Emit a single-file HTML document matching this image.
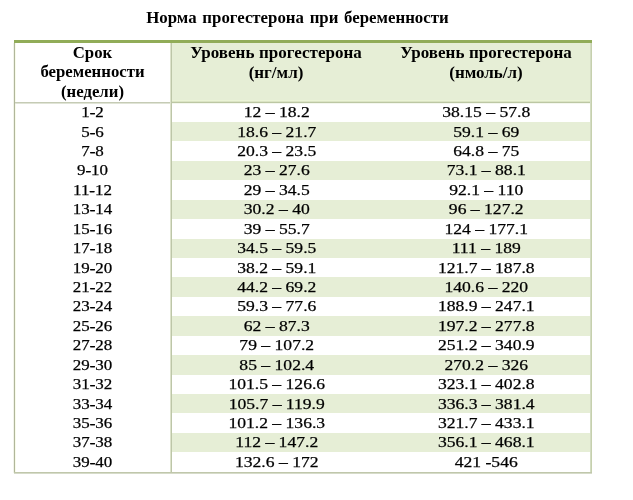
<!DOCTYPE html>
<html><head><meta charset="utf-8"><title>Норма прогестерона при беременности</title>
<style>
html,body{margin:0;padding:0;background:#fff;}
body{width:633px;height:500px;position:relative;overflow:hidden;font-family:"Liberation Serif",serif;color:#000;}
.abs{position:absolute;}
.title{position:absolute;left:0;width:595.0px;top:8.2px;text-align:center;font-weight:bold;font-size:16px;line-height:20px;white-space:nowrap;}
.h{position:absolute;text-align:center;font-weight:bold;font-size:15.8px;line-height:19.3px;top:43.2px;}
.r{position:absolute;left:14px;width:577px;height:19.43px;font-size:15.2px;}
.r span{position:absolute;top:0;text-align:center;line-height:19.43px;white-space:nowrap;}
.title,.h,.r span{transform:scaleX(1.1);transform-origin:50% 50%;}
.title{transform:scaleX(1.051);word-spacing:1.45px;}
.h{transform:scaleX(1.06);word-spacing:2px;}
.h.w{transform:scaleX(1.076);word-spacing:0.4px;margin-top:-0.3px;line-height:19.9px;}
.r span{transform:scaleX(1.158);-webkit-text-stroke:0.25px #000;}
.r span.c1{transform:scaleX(1.116);}
.r i{font-style:normal;text-shadow:0 0.45px 0 #000;}
.c1{left:0;width:157px;}
.c2{left:157px;width:211.5px;}
.c3{margin-left:-0.8px;left:368.5px;width:208.5px;}
</style></head><body>

<div class="title">Норма прогестерона при беременности</div>
<div class="abs" style="left:171px;top:40px;width:420px;height:62px;background:#e6eed6"></div>
<div class="abs" style="left:172px;top:122px;width:419px;height:19px;background:#e6eed6"></div>
<div class="abs" style="left:172px;top:161px;width:419px;height:19px;background:#e6eed6"></div>
<div class="abs" style="left:172px;top:200px;width:419px;height:19px;background:#e6eed6"></div>
<div class="abs" style="left:172px;top:239px;width:419px;height:19px;background:#e6eed6"></div>
<div class="abs" style="left:172px;top:277px;width:419px;height:20px;background:#e6eed6"></div>
<div class="abs" style="left:172px;top:316px;width:419px;height:20px;background:#e6eed6"></div>
<div class="abs" style="left:172px;top:355px;width:419px;height:20px;background:#e6eed6"></div>
<div class="abs" style="left:172px;top:394px;width:419px;height:19px;background:#e6eed6"></div>
<div class="abs" style="left:172px;top:433px;width:419px;height:19px;background:#e6eed6"></div>
<div class="abs" style="left:13px;top:43px;width:1px;height:430px;background:#f1f3ea"></div>
<div class="abs" style="left:14px;top:40px;width:1px;height:433px;background:#b0b69a"></div>
<div class="abs" style="left:15px;top:43px;width:1px;height:429px;background:#f8fbea"></div>
<div class="abs" style="left:590px;top:43px;width:1px;height:430px;background:#d3dcc2"></div>
<div class="abs" style="left:591px;top:43px;width:1px;height:430px;background:#c6d0ae"></div>
<div class="abs" style="left:14px;top:472px;width:578px;height:1px;background:#c0c7ab"></div>
<div class="abs" style="left:14px;top:473px;width:578px;height:1px;background:#d6dbc9"></div>
<div class="abs" style="left:15px;top:102px;width:156px;height:1px;background:#c5cbb5"></div>
<div class="abs" style="left:15px;top:103px;width:156px;height:1px;background:#e0e4d6"></div>
<div class="abs" style="left:172px;top:100px;width:418px;height:1px;background:#ebf4d6"></div>
<div class="abs" style="left:172px;top:101px;width:418px;height:1px;background:#dbe4c4"></div>
<div class="abs" style="left:172px;top:102px;width:418px;height:1px;background:#bcc7a3"></div>
<div class="abs" style="left:172px;top:103px;width:418px;height:1px;background:#f4f7ee"></div>
<div class="abs" style="left:170px;top:43px;width:1px;height:429px;background:#dde3cc"></div>
<div class="abs" style="left:171px;top:43px;width:1px;height:429px;background:#bdc6a8"></div>
<div class="abs" style="left:14px;top:40px;width:578px;height:3px;background:#91ac58"></div>
<div class="h" style="left:14px;width:157px">Срок<br>беременности<br>(недели)</div>
<div class="h w" style="left:171px;width:210px">Уровень прогестерона<br>(нг/мл)</div>
<div class="h w" style="left:381px;width:210px">Уровень прогестерона<br>(нмоль/л)</div>
<div class="r" style="top:102.10px"><span class="c1">1<i>-</i>2</span><span class="c2">12 <i>–</i> 18.2</span><span class="c3">38.15 <i>–</i> 57.8</span></div>
<div class="r" style="top:121.53px"><span class="c1">5<i>-</i>6</span><span class="c2">18.6 <i>–</i> 21.7</span><span class="c3">59.1 <i>–</i> 69</span></div>
<div class="r" style="top:140.96px"><span class="c1">7<i>-</i>8</span><span class="c2">20.3 <i>–</i> 23.5</span><span class="c3">64.8 <i>–</i> 75</span></div>
<div class="r" style="top:160.39px"><span class="c1">9<i>-</i>10</span><span class="c2">23 <i>–</i> 27.6</span><span class="c3">73.1 <i>–</i> 88.1</span></div>
<div class="r" style="top:179.82px"><span class="c1">11<i>-</i>12</span><span class="c2">29 <i>–</i> 34.5</span><span class="c3">92.1 <i>–</i> 110</span></div>
<div class="r" style="top:199.25px"><span class="c1">13<i>-</i>14</span><span class="c2">30.2 <i>–</i> 40</span><span class="c3">96 <i>–</i> 127.2</span></div>
<div class="r" style="top:218.68px"><span class="c1">15<i>-</i>16</span><span class="c2">39 <i>–</i> 55.7</span><span class="c3">124 <i>–</i> 177.1</span></div>
<div class="r" style="top:238.11px"><span class="c1">17<i>-</i>18</span><span class="c2">34.5 <i>–</i> 59.5</span><span class="c3">111 <i>–</i> 189</span></div>
<div class="r" style="top:257.54px"><span class="c1">19<i>-</i>20</span><span class="c2">38.2 <i>–</i> 59.1</span><span class="c3">121.7 <i>–</i> 187.8</span></div>
<div class="r" style="top:276.97px"><span class="c1">21<i>-</i>22</span><span class="c2">44.2 <i>–</i> 69.2</span><span class="c3">140.6 <i>–</i> 220</span></div>
<div class="r" style="top:296.40px"><span class="c1">23<i>-</i>24</span><span class="c2">59.3 <i>–</i> 77.6</span><span class="c3">188.9 <i>–</i> 247.1</span></div>
<div class="r" style="top:315.83px"><span class="c1">25<i>-</i>26</span><span class="c2">62 <i>–</i> 87.3</span><span class="c3">197.2 <i>–</i> 277.8</span></div>
<div class="r" style="top:335.26px"><span class="c1">27<i>-</i>28</span><span class="c2">79 <i>–</i> 107.2</span><span class="c3">251.2 <i>–</i> 340.9</span></div>
<div class="r" style="top:354.69px"><span class="c1">29<i>-</i>30</span><span class="c2">85 <i>–</i> 102.4</span><span class="c3">270.2 <i>–</i> 326</span></div>
<div class="r" style="top:374.12px"><span class="c1">31<i>-</i>32</span><span class="c2">101.5 <i>–</i> 126.6</span><span class="c3">323.1 <i>–</i> 402.8</span></div>
<div class="r" style="top:393.55px"><span class="c1">33<i>-</i>34</span><span class="c2">105.7 <i>–</i> 119.9</span><span class="c3">336.3 <i>–</i> 381.4</span></div>
<div class="r" style="top:412.98px"><span class="c1">35<i>-</i>36</span><span class="c2">101.2 <i>–</i> 136.3</span><span class="c3">321.7 <i>–</i> 433.1</span></div>
<div class="r" style="top:432.41px"><span class="c1">37<i>-</i>38</span><span class="c2">112 <i>–</i> 147.2</span><span class="c3">356.1 <i>–</i> 468.1</span></div>
<div class="r" style="top:451.84px"><span class="c1">39<i>-</i>40</span><span class="c2">132.6 <i>–</i> 172</span><span class="c3">421 <i>-</i>546</span></div>
</body></html>
